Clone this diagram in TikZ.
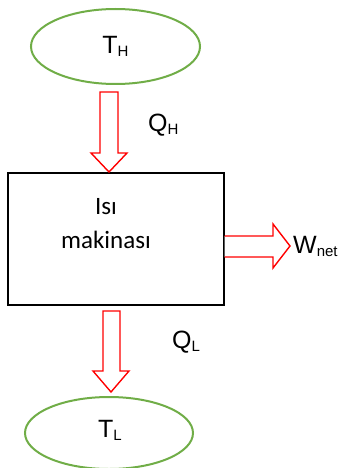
\documentclass[tikz,border=0pt]{standalone}
\usepackage{fontspec}
\setmainfont{Liberation Sans}
\newfontfamily\calib{Carlito}
\usetikzlibrary{shapes.geometric}
\definecolor{offgreen}{RGB}{112,173,71}
\tikzset{
  reservoir/.style={draw=offgreen, line width=2pt, ellipse, minimum width=169pt, minimum height=75pt, inner sep=0pt},
  engine/.style={draw=black, line width=1.4pt, minimum width=216pt, minimum height=132pt, inner sep=0pt},
  fatarrow/.style={draw=red, line width=1.4pt, fill=white, line join=miter},
  lbl/.style={inner sep=0pt, font=\fontsize{25}{25}\selectfont}
}
\newcommand{\subs}[1]{\raisebox{-3pt}{\fontsize{15}{15}\selectfont #1}}
\begin{document}
\begin{tikzpicture}[x=1pt,y=-1pt]
\useasboundingbox (0,0) rectangle (344,468);
\node[reservoir] (th) at (115.5,46.5) {};
\node[lbl] (thl) at (115.5,46.5) {T\subs{H}};
\node[engine] (box) at (116,239) {};
\node[font=\calib\fontsize{25}{30}\selectfont, align=center, inner sep=0pt] (boxl) at (106,224) {Isı\\[4pt]makinası};
\node[reservoir, minimum width=168pt, minimum height=72pt] (tl) at (109,433) {};
\node[lbl] (tll) at (110,430) {T\subs{L}};
% upper arrow
\coordinate (a1) at (109,172);
\draw[fatarrow] (100,92) -- (118,92) -- (118,153) -- (127,153) -- (a1) -- (91,153) -- (100,153) -- cycle;
\node[lbl, anchor=west] (qh) at (148,125) {Q\subs{H}};
% lower arrow
\coordinate (a2) at (111,392);
\draw[fatarrow] (103,311) -- (120,311) -- (120,371) -- (129,371) -- (a2) -- (93,371) -- (103,371) -- cycle;
\node[lbl, anchor=west] (ql) at (172,342) {Q\subs{L}};
% right arrow
\coordinate (a3) at (290,246);
\draw[fatarrow] (box.east |- 0,236) -- (273,236) -- (273,224) -- (a3) -- (273,268) -- (273,257) -- (box.east |- 0,257);
\node[lbl, anchor=west] (w) at (293,246) {W\subs{net}};
\end{tikzpicture}
\end{document}
